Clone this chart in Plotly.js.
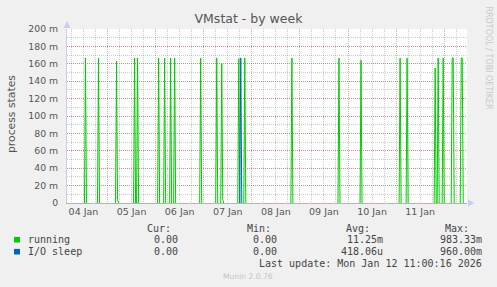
<!DOCTYPE html>
<html><head><meta charset="utf-8">
<script src="https://cdn.plot.ly/plotly-3.0.1.min.js"></script>
<style>html,body{margin:0;padding:0;background:#f0f0f0}</style>
</head><body><div id="chart" style="width:497px;height:287px"></div>
<script>
// ---- data ----
const runningTimes = [
  '2026-01-04 13:00','2026-01-04 19:30','2026-01-05 04:30','2026-01-05 05:00',
  '2026-01-05 13:30','2026-01-05 15:00','2026-01-06 01:30','2026-01-06 04:30',
  '2026-01-06 07:30','2026-01-06 09:30','2026-01-06 22:30','2026-01-07 06:30',
  '2026-01-07 09:00','2026-01-07 09:30','2026-01-07 17:30','2026-01-07 20:30',
  '2026-01-08 20:00','2026-01-09 19:30','2026-01-10 06:30','2026-01-11 02:00',
  '2026-01-11 05:30','2026-01-11 19:30','2026-01-11 21:00','2026-01-11 23:30',
  '2026-01-12 04:00','2026-01-12 04:30','2026-01-12 08:30','2026-01-12 09:00'
];
const runningValues = [
  0.1667,0.1667,0.1630,0.004,
  0.1667,0.1667,0.1667,0.1667,
  0.1667,0.1667,0.1667,0.1667,
  0.1600,0.004,0.1660,0.1667,
  0.1667,0.1667,0.1640,0.1667,
  0.1667,0.1550,0.1667,0.1667,
  0.1667,0.1667,0.1667,0.1667
];
const ioSleepTimes = ['2026-01-07 18:30'];
const ioSleepValues = [0.1667];
const xRange = ['2026-01-04 03:47','2026-01-12 11:23'];
const yTickVals = [0,0.02,0.04,0.06,0.08,0.10,0.12,0.14,0.16,0.18,0.20];
const yTickText = ['0','20 m','40 m','60 m','80 m','100 m','120 m','140 m','160 m','180 m','200 m'];
const legendNames = ['running','I/O sleep'];
const legendCur = ['0.00','0.00'];
const legendMin = ['0.00','0.00'];
const legendAvg = ['11.25m','418.06u'];
const legendMax = ['983.33m','960.00m'];
const legendHeaders = ['Cur:','Min:','Avg:','Max:'];
const lastUpdate = 'Last update: Mon Jan 12 11:00:16 2026';
const colors = ['#00cc00','#0066b3'];

// ---- build series: each sample rises from and returns to the zero baseline ----
const STEP = 30*60*1000;
function toMs(s){ return Date.parse(s.replace(' ','T')+':00Z'); }
function series(times, vals){
  const m = new Map();
  times.forEach((t,i)=>m.set(toMs(t), vals[i]));
  [...m.keys()].forEach(k=>{
    if(!m.has(k-STEP)) m.set(k-STEP,0);
    if(!m.has(k+STEP)) m.set(k+STEP,0);
  });
  const keys = [...m.keys()].sort((p,q)=>p-q);
  const x=[], y=[];
  keys.forEach((k,i)=>{
    if(i>0 && k-keys[i-1] > STEP){ x.push(k-STEP/2); y.push(null); }
    x.push(k); y.push(m.get(k));
  });
  return {x, y};
}
const sR = series(runningTimes, runningValues);
const sI = series(ioSleepTimes, ioSleepValues);

const traces = [
  {x:sR.x, y:sR.y, type:'scatter', mode:'lines', connectgaps:false, line:{color:colors[0], width:1}, hoverinfo:'skip', name:legendNames[0]},
  {x:sI.x, y:sI.y, type:'scatter', mode:'lines', connectgaps:false, line:{color:colors[1], width:1}, hoverinfo:'skip', name:legendNames[1]}
];

// ---- pixel helpers for decorations ----
const L=67, R=467, T=29, B=203;
const px = x => (x-L)/(R-L);
const py = y => (B-y)/(B-T);

const ann = [];
const mono = {family:'DejaVu Sans Mono', size:10, color:'#444'};
function addText(text, x, y, xanchor, font, extra){
  ann.push(Object.assign({text, x:px(x), y:py(y), xref:'paper', yref:'paper',
    xanchor, yanchor:'middle', showarrow:false, font, borderpad:0}, extra||{}));
}
const headerRight = [172,272,371,470];
const valueRight = [179,278,384,483];
legendHeaders.forEach((h,i)=>addText(h, headerRight[i], 228, 'right', mono));
const rowsY = [239.7, 251.7];
legendNames.forEach((n,r)=>{
  addText(n, 27, rowsY[r], 'left', mono);
  [legendCur[r],legendMin[r],legendAvg[r],legendMax[r]].forEach((v,i)=>addText(v, valueRight[i], rowsY[r], 'right', mono));
});
addText(lastUpdate, 483, 263.3, 'right', mono);
addText('Munin 2.0.76', 248, 276.3, 'center', {family:'DejaVu Sans', size:7.6, color:'#c4c4c4'});
addText('process states', 11, 114, 'center', {family:'DejaVu Sans', size:10.8, color:'#555'}, {textangle:-90});
addText('RRDTOOL / TOBI OETIKER', 488, 57.5, 'center', {family:'DejaVu Sans', size:8, color:'#c8c8c8'}, {textangle:90});

const shapes = [];
legendNames.forEach((n,r)=>{
  shapes.push({type:'rect', xref:'paper', yref:'paper', x0:px(14), x1:px(20),
    y0:py(rowsY[r]-2.8), y1:py(rowsY[r]+2.8), fillcolor:colors[r], line:{width:0}});
});
function tri(p){ return 'M '+p.map(q=>px(q[0])+','+py(q[1])).join(' L ')+' Z'; }
shapes.push({type:'path', xref:'paper', yref:'paper', path:tri([[67,21],[63.5,28],[70.5,28]]), fillcolor:'#c9cdf5', line:{width:0}});
shapes.push({type:'path', xref:'paper', yref:'paper', path:tri([[474.5,203],[468,199.5],[468,206.5]]), fillcolor:'#c9cdf5', line:{width:0}});

const layout = {
  width:497, height:287,
  margin:{l:L, r:497-R, t:T, b:287-B, pad:0},
  paper_bgcolor:'#f0f0f0', plot_bgcolor:'#ffffff',
  showlegend:false,
  title:{text:'VMstat - by week', font:{family:'DejaVu Sans', size:12.5, color:'#555'},
    xref:'container', x:0.5, xanchor:'center', yref:'container', y:1-19/287, yanchor:'middle'},
  xaxis:{type:'date', range:xRange, tick0:'2026-01-04', dtick:86400000, tickformat:'%d %b',
    ticklabelmode:'period', ticks:'', showgrid:true, gridcolor:'rgba(230,60,60,0.45)', griddash:'1px,1px', gridwidth:1,
    minor:{dtick:21600000, tick0:'2026-01-04', showgrid:true, gridcolor:'rgba(128,128,128,0.4)', griddash:'1px,1px', gridwidth:1},
    showline:true, linecolor:'#a9b0e6', linewidth:1, zeroline:false,
    tickfont:{family:'DejaVu Sans', size:9.5, color:'#555'}, fixedrange:true},
  yaxis:{range:[0,0.2], tickmode:'array', tickvals:yTickVals, ticktext:yTickText, ticks:'',
    ticklabelstandoff:6,
    showgrid:true, gridcolor:'rgba(230,60,60,0.45)', griddash:'1px,1px', gridwidth:1,
    minor:{tickmode:'linear', tick0:0, dtick:0.01, showgrid:true, gridcolor:'rgba(128,128,128,0.4)', griddash:'1px,1px', gridwidth:1},
    showline:true, linecolor:'#c8ccef', linewidth:1, zeroline:false,
    tickfont:{family:'DejaVu Sans', size:9.3, color:'#555'}, fixedrange:true},
  annotations:ann,
  shapes:shapes
};
Plotly.newPlot('chart', traces, layout, {staticPlot:true, displayModeBar:false});
</script>
</body></html>
